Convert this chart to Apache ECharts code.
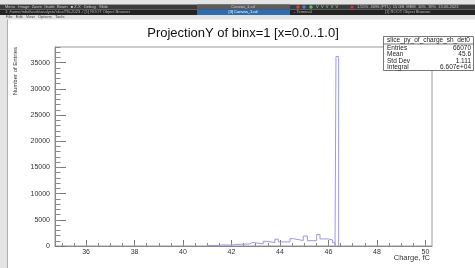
<!DOCTYPE html>
<html>
<head>
<meta charset="utf-8">
<script src="https://cdn.jsdelivr.net/npm/echarts@6/dist/echarts.min.js"></script>
<style>
    html, body { margin: 0; padding: 0; background: #fff; }
    #hist-chart { width: 475px; height: 268px; }
</style>
</head>
<body>
<div id="hist-chart"></div>
<script>
// bin low edges (fC) and contents
var binEdges = [40.98, 41.20, 41.53, 41.62, 42.00, 42.21, 42.76, 42.85, 43.31, 43.45,
                43.79, 43.93, 44.41, 44.55, 44.96, 45.13, 45.51, 45.65, 45.99, 46.17,
                46.27, 46.31, 46.42];
var binCounts = [90, 120, 220, 150, 300, 400, 680, 420, 900, 650,
                 1300, 780, 1400, 1050, 1900, 1020, 2200, 1350, 1150, 650,
                 0, 36200, 0];

var xMajorTicks = [36, 38, 40, 42, 44, 46, 48, 50];
var yMajorTicks = [0, 5000, 10000, 15000, 20000, 25000, 30000, 35000];

var statNames = ['Entries', 'Mean', 'Std Dev', 'Integral'];
var statValues = ['66070', '45.6', '1.111', '6.607e+04'];

var xMin = 34.72, xMax = 50.27, yMax = 38000;
var fontName = 'Liberation Sans, Arial, sans-serif';

var xMinorTicks = [], yMinorTicks = [];
for (var t = 35; t <= 50; t += 0.5) xMinorTicks.push(t);
for (var v = 1000; v <= 38000; v += 1000) yMinorTicks.push(v);

var histData = [];
for (var i = 0; i < binEdges.length; i++) {
    histData.push([binEdges[i], binCounts[i]]);
}

// window chrome above the canvas
var chrome = [
    { type: 'rect', shape: { x: 0, y: 0, width: 475, height: 4.5 }, style: { fill: '#e4e4e4' } },
    { type: 'rect', shape: { x: 0, y: 4.5, width: 475, height: 5 }, style: { fill: '#3c3c3c' } },
    { type: 'rect', shape: { x: 197, y: 4.5, width: 93, height: 5 }, style: { fill: '#5c5c5c' } },
    { type: 'rect', shape: { x: 0, y: 9.5, width: 475, height: 5.5 }, style: { fill: '#232323' } },
    { type: 'rect', shape: { x: 197, y: 9.5, width: 93, height: 5.5 }, style: { fill: '#2f6db0' } },
    { type: 'rect', shape: { x: 0, y: 15, width: 475, height: 4.5 }, style: { fill: '#e2e2e2' } },
    { type: 'rect', shape: { x: 0, y: 19.5, width: 7, height: 249 }, style: { fill: '#e4e4e4' } },
    { type: 'rect', shape: { x: 7, y: 19.5, width: 0.8, height: 249 }, style: { fill: '#9a9a9a' } },
    { type: 'text', x: 5, y: 7, style: { text: 'Menu   Image  Zoom  Guide  Beam   \u25a0 Z.X   Debug   Slide', fill: '#c8c8c8', font: '4px ' + fontName, verticalAlign: 'middle' } },
    { type: 'text', x: 243, y: 7, style: { text: 'Canvas_1.cd', fill: '#d0d0d0', font: '4px ' + fontName, align: 'center', verticalAlign: 'middle' } },
    { type: 'circle', shape: { cx: 298, cy: 7, r: 1.8 }, style: { fill: '#d84040' } },
    { type: 'circle', shape: { cx: 304, cy: 7, r: 1.8 }, style: { fill: '#4a7fd8' } },
    { type: 'circle', shape: { cx: 311, cy: 7, r: 1.8 }, style: { fill: '#50c070' } },
    { type: 'text', x: 316, y: 7, style: { text: 'V  V  V  V  V', fill: '#9fd89f', font: '4px ' + fontName, verticalAlign: 'middle' } },
    { type: 'circle', shape: { cx: 352, cy: 7, r: 1.5 }, style: { fill: '#e03030' } },
    { type: 'text', x: 357, y: 7, style: { text: '1.55%  4096 (PTL)  15 GB  MEM  10%  39%  13.06.2023', fill: '#c8c8c8', font: '4px ' + fontName, verticalAlign: 'middle' } },
    { type: 'text', x: 5, y: 12.3, style: { text: '1: /home/mbd/work/analysis/slice/TB-2023 ./ [1] ROOT Object Browser', fill: '#b8b8b8', font: '4px ' + fontName, verticalAlign: 'middle' } },
    { type: 'text', x: 243, y: 12.3, style: { text: '[3] Canvas_1.cd', fill: '#ffffff', font: '4px ' + fontName, align: 'center', verticalAlign: 'middle' } },
    { type: 'text', x: 294, y: 12.3, style: { text: '- Terminal', fill: '#b8b8b8', font: '4px ' + fontName, verticalAlign: 'middle' } },
    { type: 'text', x: 385, y: 12.3, style: { text: '[1] ROOT Object Browser', fill: '#b8b8b8', font: '4px ' + fontName, verticalAlign: 'middle' } },
    { type: 'text', x: 6, y: 17.3, style: { text: 'File   Edit   View   Options   Tools', fill: '#444', font: '4px ' + fontName, verticalAlign: 'middle' } }
];

// title, axis titles and the stats box
var labels = [
    { type: 'text', x: 243, y: 33, style: { text: 'ProjectionY of binx=1 [x=0.0..1.0]', fill: '#111', font: '13px ' + fontName, align: 'center', verticalAlign: 'middle' } },
    { type: 'text', x: 15.5, y: 47, rotation: Math.PI / 2, style: { text: 'Number of Entries', fill: '#333', font: '6px ' + fontName, align: 'right', verticalAlign: 'middle' } },
    { type: 'text', x: 430, y: 258, style: { text: 'Charge, fC', fill: '#333', font: '7.5px ' + fontName, align: 'right', verticalAlign: 'middle' } },
    { type: 'rect', z: 10, shape: { x: 383.5, y: 36.5, width: 90, height: 34 }, style: { fill: '#fff', stroke: '#555', lineWidth: 0.8 } },
    { type: 'line', z: 11, shape: { x1: 383.5, y1: 44, x2: 473.5, y2: 44 }, style: { stroke: '#555', lineWidth: 0.8 } },
    { type: 'text', z: 11, x: 428.5, y: 40.3, style: { text: 'slice_py_of_charge_sh_det0', fill: '#222', font: '6.5px ' + fontName, align: 'center', verticalAlign: 'middle' } }
];
for (var s = 0; s < statNames.length; s++) {
    labels.push({ type: 'text', z: 11, x: 387, y: 48.3 + s * 6.3, style: { text: statNames[s], fill: '#222', font: '6.5px ' + fontName, verticalAlign: 'middle' } });
    labels.push({ type: 'text', z: 11, x: 471, y: 48.3 + s * 6.3, style: { text: statValues[s], fill: '#222', font: '6.5px ' + fontName, align: 'right', verticalAlign: 'middle' } });
}

var histOption = {
    animation: false,
    backgroundColor: '#fff',
    grid: {
        left: 55,
        top: 47,
        right: 43,
        bottom: 22,
        show: true,
        borderColor: '#9a9a9a',
        borderWidth: 1,
        backgroundColor: 'transparent'
    },
    xAxis: [{
        type: 'value',
        min: xMin,
        max: xMax,
        position: 'bottom',
        axisLine: { onZero: false, lineStyle: { color: '#888', width: 1 } },
        axisTick: { inside: true, length: 6, customValues: xMajorTicks, lineStyle: { color: '#777' } },
        axisLabel: {
            customValues: xMajorTicks, margin: 3, color: '#333', fontSize: 7, fontFamily: fontName,
            formatter: function (val) { return String(val); }
        },
        splitLine: { show: false }
    }, {
        type: 'value',
        min: xMin,
        max: xMax,
        position: 'bottom',
        axisLine: { show: false },
        axisTick: { inside: true, length: 3, customValues: xMinorTicks, lineStyle: { color: '#888' } },
        axisLabel: { show: false },
        splitLine: { show: false }
    }],
    yAxis: [{
        type: 'value',
        min: 0,
        max: yMax,
        position: 'left',
        axisLine: { show: true, onZero: false, lineStyle: { color: '#888', width: 1 } },
        axisTick: { show: true, inside: true, length: 11, customValues: yMajorTicks, lineStyle: { color: '#777' } },
        axisLabel: {
            customValues: yMajorTicks, margin: 5, color: '#333', fontSize: 7, fontFamily: fontName,
            formatter: function (val) { return String(val); }
        },
        splitLine: { show: false }
    }, {
        type: 'value',
        min: 0,
        max: yMax,
        position: 'left',
        axisLine: { show: false },
        axisTick: { show: true, inside: true, length: 5.5, customValues: yMinorTicks, lineStyle: { color: '#888' } },
        axisLabel: { show: false },
        splitLine: { show: false }
    }],
    series: [{
        name: 'slice_py_of_charge_sh_det0',
        type: 'line',
        step: 'end',
        xAxisIndex: 0,
        yAxisIndex: 0,
        symbol: 'none',
        lineStyle: { color: '#9a9ae2', width: 1 },
        data: histData
    }],
    graphic: { elements: chrome.concat(labels) }
};

var histChart = echarts.init(document.getElementById('hist-chart'));
histChart.setOption(histOption);
</script>
</body>
</html>
